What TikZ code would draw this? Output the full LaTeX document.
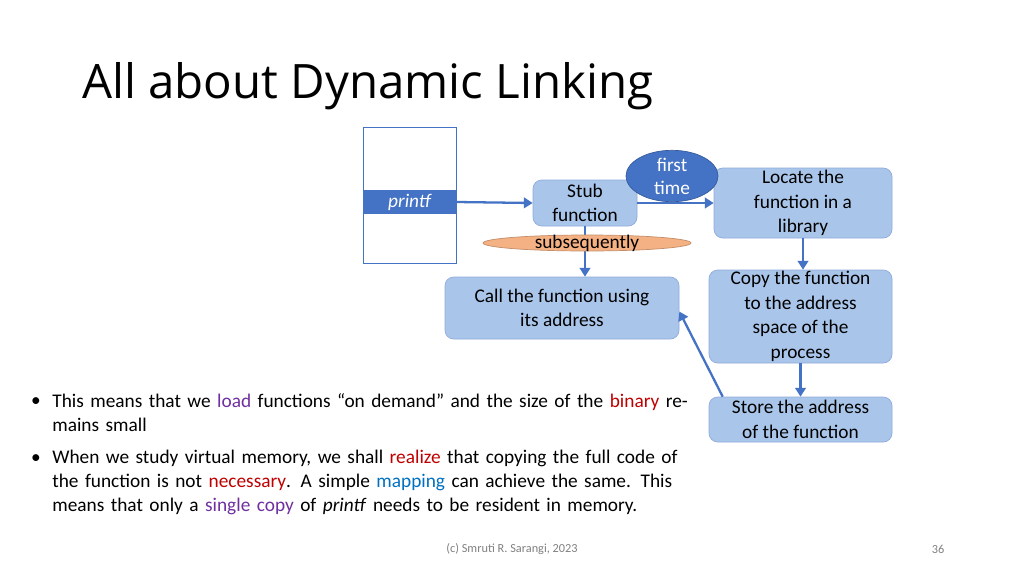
\documentclass[tikz,border=0pt]{standalone}
\usepackage{fontspec}
\setmainfont{Carlito}
\newfontfamily\titlefont{Open Sans}
\usetikzlibrary{shapes.geometric,arrows.meta}
\definecolor{acc}{HTML}{4472C4}
\definecolor{boxf}{HTML}{A9C6EA}
\definecolor{boxd}{HTML}{8FAADC}
\definecolor{sal}{HTML}{F4B183}
\definecolor{lred}{HTML}{C00000}
\definecolor{lpur}{HTML}{7030A0}
\definecolor{lblu}{HTML}{0070C0}
\begin{document}
\begin{tikzpicture}[x=0.02cm,y=-0.02cm,
  box/.style={draw=boxd,fill=boxf,rounded corners=5pt,align=center,font=\fontsize{11}{14}\selectfont,inner sep=0pt},
  arr/.style={draw=acc,line width=1.3pt,-{Triangle[length=5pt,width=6pt]}}]
\useasboundingbox[fill=white] (0,0) rectangle (1024,575);
\node[anchor=west,font=\titlefont\fontsize{27}{30}\selectfont] (title) at (76,86) {All about Dynamic Linking};
\node[draw=acc,minimum width=93*0.02cm,minimum height=136*0.02cm,inner sep=0pt] (mem) at (409.5,195) {};
\node[fill=acc,draw=acc,minimum width=93*0.02cm,minimum height=23*0.02cm,inner sep=0pt,text=white,font=\itshape\fontsize{11}{13}\selectfont] (pf) at (409.5,202) {printf};
\node[box,minimum width=104*0.02cm,minimum height=46*0.02cm] (stub) at (585,203) {Stub\\function};
\node[box,minimum width=178*0.02cm,minimum height=70*0.02cm] (loc) at (803,203) {Locate the\\function in a\\library};
\node[box,minimum width=234*0.02cm,minimum height=62*0.02cm] (call) at (562,308) {Call the function using\\its address};
\node[box,minimum width=183*0.02cm,minimum height=93*0.02cm] (copy) at (800.5,316.5) {Copy the function\\to the address\\space of the\\process};
\node[box,minimum width=183*0.02cm,minimum height=45*0.02cm] (store) at (800.5,419.5) {Store the address\\of the function};
\draw[arr] (pf.east) -- (stub.west);
\draw[arr] (stub.east) -- (loc.west);
\draw[arr] (stub.south) -- (call.north -| stub.south);
\draw[arr] (loc.south) -- (copy.north -| loc.south);
\draw[arr] (copy.south) -- (store.north -| copy.south);
\draw[arr] ([xshift=8]store.north west) -- ([yshift=-2]call.east);
\node[ellipse,fill=sal,draw=sal!80!black,minimum width=208*0.02cm,minimum height=16*0.02cm,inner sep=0pt] (sub) at (587,243) {};
\node[font=\fontsize{11}{13}\selectfont] (subt) at (sub) {subsequently};
\node[ellipse,fill=acc,draw=acc!80!black,minimum width=92*0.02cm,minimum height=44*0.02cm,inner sep=0pt,text=white,align=center,font=\fontsize{11}{13}\selectfont] (ft) at (672,176) {first\\time};
\node[anchor=north west,text width=650*0.02cm,align=left,font=\fontsize{11}{13.5}\selectfont,inner sep=0pt] (b1) at (52,393) {This means that we \textcolor{lpur}{load} functions “on demand” and the size of the \textcolor{lred}{binary} remains small};
\node[anchor=north west,text width=650*0.02cm,align=left,font=\fontsize{11}{13.5}\selectfont,inner sep=0pt] (b2) at (52,450) {When we study virtual memory, we shall \textcolor{lred}{realize} that copying the full code of the function is not \textcolor{lred}{necessary}. A simple \textcolor{lblu}{mapping} can achieve the same. This means that only a \textcolor{lpur}{single copy} of \textit{printf} needs to be resident in memory.};
\node[font=\fontsize{11}{13}\selectfont] (d1) at (36,402) {•};
\node[font=\fontsize{11}{13}\selectfont] (d2) at (36,459) {•};
\node[text=gray,font=\fontsize{7}{8}\selectfont] (ft1) at (512,549) {(c) Smruti R. Sarangi, 2023};
\node[text=gray,font=\fontsize{7}{8}\selectfont] (ft2) at (938,549) {36};
\end{tikzpicture}
\end{document}
